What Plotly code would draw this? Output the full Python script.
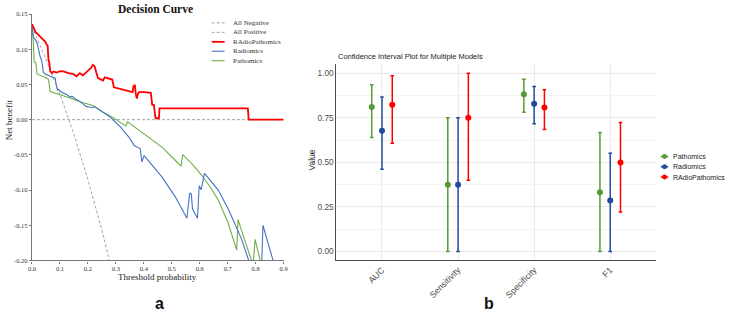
import plotly.graph_objects as go

W, H = 738, 314

# ---------------- Panel a: decision curve data ----------------
thr_ticks = [0.0, 0.1, 0.2, 0.3, 0.4, 0.5, 0.6, 0.7, 0.8, 0.9]
nb_ticks = [-0.20, -0.15, -0.10, -0.05, 0.00, 0.05, 0.10, 0.15]

all_neg_x = [0.0, 0.9]
all_neg_y = [0.0, 0.0]

all_pos_x = [0.0, 0.05, 0.10, 0.15, 0.20, 0.25, 0.277]
all_pos_y = [0.132, 0.086, 0.036, -0.021, -0.085, -0.157, -0.200]

radio_path_x = [0, 0.012, 0.029, 0.047, 0.053, 0.056, 0.059, 0.062, 0.065, 0.071, 0.077, 0.088,
                0.100, 0.112, 0.130, 0.147, 0.159, 0.171, 0.182, 0.195, 0.204, 0.212, 0.218, 0.224,
                0.230, 0.236, 0.242, 0.254, 0.260, 0.271, 0.287, 0.293, 0.313, 0.330, 0.348, 0.360,
                0.363, 0.368, 0.371, 0.375, 0.379, 0.383, 0.401, 0.425, 0.430, 0.436, 0.440, 0.442,
                0.454, 0.456, 0.772, 0.775, 0.9]
radio_path_y = [0.1356, 0.125, 0.118, 0.111, 0.106, 0.105, 0.085, 0.081, 0.069, 0.066, 0.0685, 0.067,
                0.069, 0.0685, 0.066, 0.065, 0.0616, 0.066, 0.063, 0.068, 0.072, 0.074, 0.078, 0.076,
                0.067, 0.059, 0.058, 0.0556, 0.060, 0.059, 0.057, 0.046, 0.044, 0.0426, 0.041, 0.039,
                0.048, 0.0486, 0.037, 0.030, 0.037, 0.039, 0.039, 0.038, 0.021, 0.021, 0.007, 0.002,
                0.002, 0.016, 0.016, 0.0, 0.0]

radiomics_x = [0, 0.006, 0.012, 0.018, 0.029, 0.035, 0.041, 0.047, 0.065, 0.083, 0.086, 0.091, 0.095,
               0.106, 0.124, 0.136, 0.144, 0.153, 0.171, 0.189, 0.195, 0.207, 0.216, 0.224, 0.242,
               0.277, 0.313, 0.348, 0.366, 0.387, 0.393, 0.401, 0.466, 0.513, 0.554, 0.564, 0.570,
               0.574, 0.592, 0.598, 0.605, 0.617, 0.666, 0.702, 0.749, 0.775, None, 0.822, 0.826, 0.862]
radiomics_y = [0.132, 0.116, 0.114, 0.109, 0.090, 0.083, 0.067, 0.065, 0.0616, 0.059, 0.051, 0.042, 0.043,
               0.039, 0.0356, 0.0324, 0.033, 0.030, 0.026, 0.020, 0.0185, 0.018, 0.017, 0.0185, 0.014,
               0.0046, -0.009, -0.0255, -0.037, -0.041, -0.060, -0.051, -0.082, -0.110, -0.140, -0.104, -0.106,
               -0.127, -0.140, -0.094, -0.0996, -0.0764, -0.100, -0.127, -0.169, -0.200, None, -0.200, -0.150, -0.200]

pathomics_x = [0, 0.0035, 0.006, 0.008, 0.014, 0.018, 0.053, 0.059, 0.065, 0.106, 0.142, 0.171, 0.218,
               0.254, 0.289, 0.324, 0.336, 0.342, 0.390, 0.430, 0.466, 0.513, 0.533, 0.539, 0.575, 0.607,
               0.640, 0.666, 0.700, 0.732, 0.737, 0.760, 0.785, None, 0.792, 0.798, 0.816]
pathomics_y = [0.127, 0.118, 0.0995, 0.082, 0.081, 0.065, 0.059, 0.057, 0.040, 0.035, 0.030, 0.0255, 0.020,
               0.0106, 0.003, -0.006, -0.009, -0.003, -0.017, -0.030, -0.0394, -0.058, -0.066, -0.0496, -0.064, -0.079,
               -0.097, -0.114, -0.145, -0.185, -0.142, -0.170, -0.200, None, -0.200, -0.170, -0.200]

# ---------------- Panel b: confidence intervals ----------------
metrics = ["AUC", "Sensitivity", "Specificity", "F1"]
value_ticks = [0.00, 0.25, 0.50, 0.75, 1.00]
value_minor = [0.125, 0.375, 0.625, 0.875]

models = ["Pathomics", "Radiomics", "RAdioPathomics"]
est = {
    "Pathomics": [0.810, 0.375, 0.882, 0.333],
    "Radiomics": [0.677, 0.375, 0.829, 0.286],
    "RAdioPathomics": [0.823, 0.750, 0.808, 0.500],
}
lower = {
    "Pathomics": [0.640, 0.000, 0.781, 0.000],
    "Radiomics": [0.462, 0.000, 0.717, 0.000],
    "RAdioPathomics": [0.608, 0.400, 0.685, 0.222],
}
upper = {
    "Pathomics": [0.936, 0.750, 0.966, 0.667],
    "Radiomics": [0.867, 0.750, 0.925, 0.551],
    "RAdioPathomics": [0.986, 1.000, 0.907, 0.723],
}

# ---------------- styles ----------------
C_RED = "#ff0000"
C_BLUE_A = "#4472c4"
C_GREEN_A = "#70ad47"
C_GREEN_B = "#559a32"
C_BLUE_B = "#1f4b9e"
C_RED_B = "#ff0000"
SERIF = "Liberation Serif, Times New Roman, serif"
SANS = "Liberation Sans, Arial, sans-serif"


def px(x):
    return x / W


def py(y):
    return 1 - y / H


fig = go.Figure()

# panel a traces
fig.add_trace(go.Scatter(x=all_neg_x, y=all_neg_y, mode="lines", xaxis="x", yaxis="y",
                         line=dict(color="#9a9a9a", width=0.9, dash="3px,2px"), showlegend=False))
fig.add_trace(go.Scatter(x=all_pos_x, y=all_pos_y, mode="lines", xaxis="x", yaxis="y",
                         line=dict(color="#9a9a9a", width=0.9, dash="3px,2px"), showlegend=False))
fig.add_trace(go.Scatter(x=pathomics_x, y=pathomics_y, mode="lines", xaxis="x", yaxis="y",
                         line=dict(color=C_GREEN_A, width=1.1), showlegend=False))
fig.add_trace(go.Scatter(x=radiomics_x, y=radiomics_y, mode="lines", xaxis="x", yaxis="y",
                         line=dict(color=C_BLUE_A, width=1.1), showlegend=False))
fig.add_trace(go.Scatter(x=radio_path_x, y=radio_path_y, mode="lines", xaxis="x", yaxis="y",
                         line=dict(color=C_RED, width=1.8), showlegend=False))

# panel b traces
colors_b = {"Pathomics": C_GREEN_B, "Radiomics": C_BLUE_B, "RAdioPathomics": C_RED_B}
dodge = 0.135
for k, m in enumerate(models):
    off = (k - 1) * dodge
    xs = [i + 1 + off for i in range(len(metrics))]
    e = est[m]
    fig.add_trace(go.Scatter(
        x=xs, y=e, mode="markers", xaxis="x2", yaxis="y2", showlegend=False,
        marker=dict(color=colors_b[m], size=6),
        error_y=dict(type="data", symmetric=False,
                     array=[u - v for u, v in zip(upper[m], e)],
                     arrayminus=[v - l for v, l in zip(e, lower[m])],
                     color=colors_b[m], thickness=1.5, width=1.8),
    ))

fig.update_layout(
    width=W, height=H, margin=dict(l=0, r=0, t=0, b=0),
    paper_bgcolor="white", plot_bgcolor="white", showlegend=False,
    xaxis=dict(domain=[px(28.3), px(282.7)], range=[0, 0.9], anchor="y",
               tickvals=thr_ticks, ticktext=[f"{v:.1f}" for v in thr_ticks],
               showline=True, linecolor="#777", linewidth=1.2, ticks="outside", ticklen=2,
               tickwidth=0.8, tickcolor="#777", showgrid=False, zeroline=False,
               tickfont=dict(family=SERIF, size=6.5, color="#333")),
    yaxis=dict(domain=[py(262.3), py(10.3)], range=[-0.2, 0.15], anchor="x",
               tickvals=nb_ticks, ticktext=[("%.2f" % v).replace("-0.00", "0.00") for v in nb_ticks],
               showline=True, linecolor="#777", linewidth=1.2, ticks="outside", ticklen=2,
               tickwidth=0.8, tickcolor="#777", showgrid=False, zeroline=False,
               tickfont=dict(family=SERIF, size=6.5, color="#333")),
    xaxis2=dict(domain=[px(336), px(659)], range=[0.4, 4.6], anchor="y2",
                tickvals=[i + 1 for i in range(len(metrics))], ticktext=metrics, tickangle=-45,
                showline=True, linecolor="#4d4d4d", linewidth=1, ticks="",
                showgrid=True, gridcolor="#ebebeb", gridwidth=0.8, zeroline=False,
                tickfont=dict(family=SANS, size=8.8, color="#4d4d4d")),
    yaxis2=dict(domain=[py(262.3), py(61.7)], range=[-0.05, 1.05], anchor="x2",
                tickvals=value_ticks, ticktext=[f"{v:.2f}" for v in value_ticks],
                showline=True, linecolor="#4d4d4d", linewidth=1, ticks="",
                showgrid=True, gridcolor="#ebebeb", gridwidth=0.8, zeroline=False,
                minor=dict(tickvals=value_minor, showgrid=True, gridcolor="#f4f4f4", gridwidth=0.6),
                tickfont=dict(family=SANS, size=8.3, color="#4d4d4d")),
)

ann = []
ann.append(dict(text="<b>Decision Curve</b>", x=px(153), y=py(5), xref="paper", yref="paper",
                showarrow=False, xanchor="center", yanchor="middle",
                font=dict(family=SERIF, size=11.5, color="#111")))
ann.append(dict(text="Net benefit", x=px(5), y=py(118), xref="paper", yref="paper", textangle=-90,
                showarrow=False, xanchor="center", yanchor="middle",
                font=dict(family=SERIF, size=9, color="#222")))
ann.append(dict(text="Threshold probability", x=px(155), y=py(279), xref="paper", yref="paper",
                showarrow=False, xanchor="center", yanchor="middle",
                font=dict(family=SERIF, size=9, color="#222")))
ann.append(dict(text="<b>a</b>", x=px(156.7), y=py(306), xref="paper", yref="paper",
                showarrow=False, xanchor="center", yanchor="middle",
                font=dict(family=SANS, size=16, color="#111")))
ann.append(dict(text="<b>b</b>", x=px(490), y=py(306), xref="paper", yref="paper",
                showarrow=False, xanchor="center", yanchor="middle",
                font=dict(family=SANS, size=16, color="#111")))
ann.append(dict(text="Confidence Interval Plot for Multiple Models", x=px(336), y=py(54),
                xref="paper", yref="paper", showarrow=False, xanchor="left", yanchor="middle",
                font=dict(family=SANS, size=7.5, color="#222")))
ann.append(dict(text="Value", x=px(311.5), y=py(160), xref="paper", yref="paper", textangle=-90,
                showarrow=False, xanchor="center", yanchor="middle",
                font=dict(family=SANS, size=8.5, color="#222")))

shapes = []
# legend for panel a
leg_a = [("All Negative", "#9a9a9a", 0.9, "dash"), ("All Positive", "#9a9a9a", 0.9, "dash"),
         ("RAdioPathomics", C_RED, 1.8, "solid"), ("Radiomics", C_BLUE_A, 1.1, "solid"),
         ("Pathomics", C_GREEN_A, 1.1, "solid")]
rows_a = [19.3, 29.0, 38.7, 48.3, 58.0]
for (name, col, wdt, dsh), r in zip(leg_a, rows_a):
    shapes.append(dict(type="line", xref="paper", yref="paper", x0=px(210), x1=px(223),
                       y0=py(r), y1=py(r), line=dict(color=col, width=wdt,
                                                   dash="3px,2px" if dsh == "dash" else "solid")))
    ann.append(dict(text=name, x=px(229), y=py(r), xref="paper", yref="paper", showarrow=False,
                    xanchor="left", yanchor="middle", font=dict(family=SERIF, size=7, color="#333")))

# legend for panel b
rows_b = [156.0, 166.5, 177.0]
for m, r in zip(models, rows_b):
    col = colors_b[m]
    shapes.append(dict(type="line", xref="paper", yref="paper", x0=px(664), x1=px(671.5),
                       y0=py(r), y1=py(r), line=dict(color=col, width=1.5)))
    shapes.append(dict(type="circle", xref="paper", yref="paper", x0=px(665.3), x1=px(670.3),
                       y0=py(r + 2.5), y1=py(r - 2.5), fillcolor=col, line=dict(color=col, width=0)))
    ann.append(dict(text=m, x=px(674), y=py(r), xref="paper", yref="paper", showarrow=False,
                    xanchor="left", yanchor="middle", font=dict(family=SANS, size=7, color="#222")))

fig.update_layout(annotations=ann, shapes=shapes)
fig.write_html("out.html")
